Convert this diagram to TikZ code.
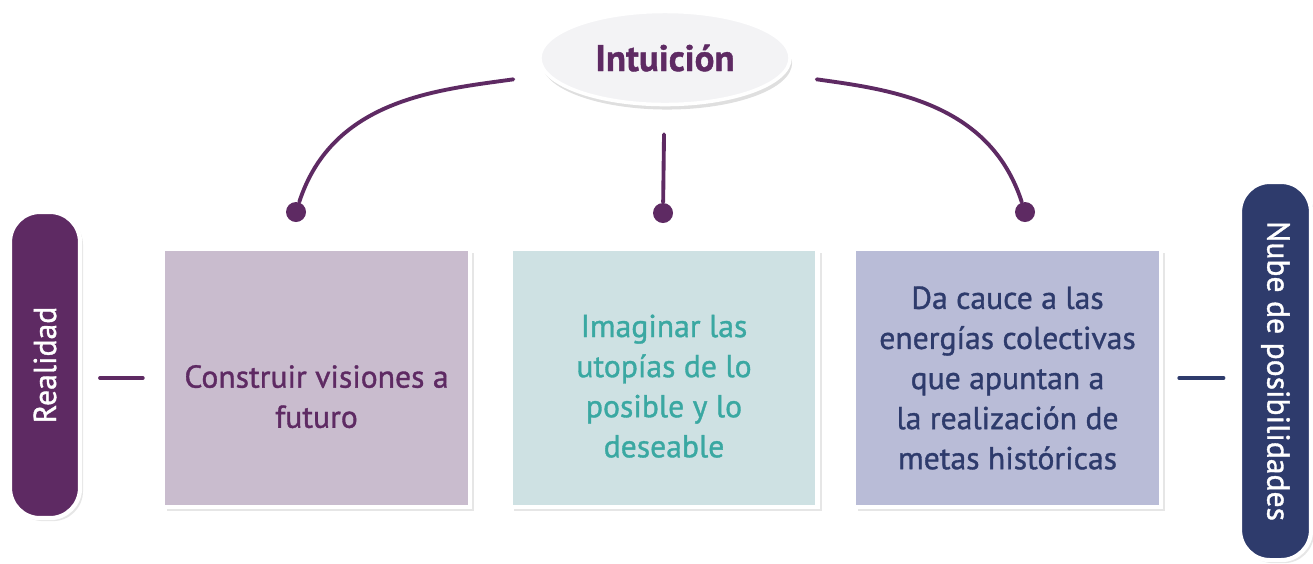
\documentclass[tikz,border=0pt]{standalone}
\usepackage{fontspec}
\setmainfont{PT Sans}[FakeBold=1.1]
\usetikzlibrary{shapes.geometric,shadows}
\definecolor{morado}{RGB}{94,42,99}
\definecolor{lila}{RGB}{201,188,206}
\definecolor{aguaclaro}{RGB}{206,225,227}
\definecolor{turquesa}{RGB}{58,168,162}
\definecolor{azulclaro}{RGB}{185,188,215}
\definecolor{marino}{RGB}{46,59,108}
\definecolor{perla}{RGB}{243,243,245}

\begin{document}
\begin{tikzpicture}[x=0.01cm, y=-0.01cm,
  caja/.style={fill=#1, draw=white, line width=1.2pt, minimum width=3.07cm, minimum height=2.58cm, align=center, font=\fontsize{9}{11.4}\selectfont, drop shadow={opacity=0.2, shadow xshift=0.04cm, shadow yshift=-0.04cm}},
  pastilla/.style={draw=white, line width=1.2pt, rounded corners=0.3cm, text=white, font=\fontsize{9}{12}\selectfont, drop shadow={opacity=0.2, shadow xshift=0.03cm, shadow yshift=-0.03cm}},
  punto/.style={circle, fill=morado, inner sep=0pt, minimum size=0.2cm},
  enlace/.style={morado, line width=1.1pt, line cap=round}]
\useasboundingbox (0,0) rectangle (1313,563);
\node[ellipse, fill=perla, draw=white, line width=1pt, minimum width=2.5cm, minimum height=0.93cm, inner sep=0pt, text=morado, font=\fontsize{10.5}{12}\selectfont\bfseries, drop shadow={opacity=0.25, shadow xshift=0.02cm, shadow yshift=-0.05cm}] (I) at (665,58) {Intuición};
\node[pastilla, fill=morado, rotate=90, minimum width=3.06cm, minimum height=0.7cm] (R) at (45,365) {Realidad};
\node[pastilla, fill=marino, rotate=-90, minimum width=3.78cm, minimum height=0.71cm] (N) at (1275.5,371) {Nube de posibilidades};
\node[caja=lila, text=morado] (A) at (316.5,378) {\rule{0pt}{17pt}Construir visiones a\\futuro};
\node[caja=aguaclaro, text=turquesa] (B) at (664,378) {\rule{0pt}{11pt}Imaginar las\\utopías de lo\\posible y lo\\deseable};
\node[caja=azulclaro, text=marino] (C) at (1007.5,378) {Da cauce a las\\energías colectivas\\que apuntan a\\la realización de\\metas históricas};
\node[punto] (d1) at (296,212) {};
\node[punto] (d2) at (663,213) {};
\node[punto] (d3) at (1025,212) {};
\draw[enlace, shorten <=0.33cm] (I) to[out=188, in=72] (d1);
\draw[enlace, shorten <=0.28cm] (I) -- (d2);
\draw[enlace, shorten <=0.33cm] (I) to[out=-8, in=108] (d3);
\draw[enlace, shorten <=0.55cm, shorten >=0.18cm] (R.center |- A.west) -- (A.west);
\draw[enlace, marino, shorten <=0.16cm, shorten >=0.52cm] (C.east) -- (N.center |- C.east);
\end{tikzpicture}
\end{document}
